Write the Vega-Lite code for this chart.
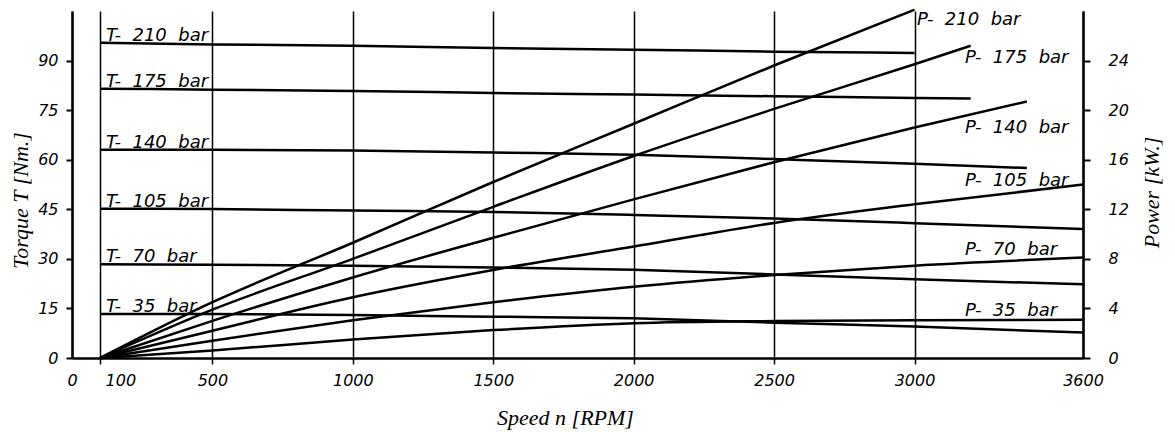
{
  "$schema": "https://vega.github.io/schema/vega-lite/v6.json",
  "width": 1011,
  "height": 347,
  "autosize": {"type": "none"},
  "padding": {"left": 72, "top": 11, "right": 92, "bottom": 74},
  "background": "white",
  "config": {
    "view": {"stroke": null},
    "axis": {
      "domainColor": "black", "domainWidth": 2.5, "tickColor": "black", "tickWidth": 2,
      "labelColor": "black", "labelFont": "DejaVu Sans", "labelFontStyle": "oblique", "labelFontSize": 16,
      "titleColor": "black", "titleFont": "Liberation Serif", "titleFontStyle": "italic", "titleFontWeight": "normal", "titleFontSize": 22,
      "labelFlush": false, "labelOverlap": false
    }
  },
  "datasets": {
    "torque": [
      {"p": 210, "speed": 100, "torque": 95.4}, {"p": 210, "speed": 500, "torque": 94.9}, {"p": 210, "speed": 1000, "torque": 94.5}, {"p": 210, "speed": 1500, "torque": 93.8}, {"p": 210, "speed": 2000, "torque": 93.3}, {"p": 210, "speed": 2500, "torque": 92.7}, {"p": 210, "speed": 3000, "torque": 92.3},
      {"p": 175, "speed": 100, "torque": 81.5}, {"p": 175, "speed": 500, "torque": 81.2}, {"p": 175, "speed": 1000, "torque": 80.8}, {"p": 175, "speed": 1500, "torque": 80.2}, {"p": 175, "speed": 2000, "torque": 79.7}, {"p": 175, "speed": 2500, "torque": 79.2}, {"p": 175, "speed": 3000, "torque": 78.7}, {"p": 175, "speed": 3200, "torque": 78.5},
      {"p": 140, "speed": 100, "torque": 63.0}, {"p": 140, "speed": 500, "torque": 63.0}, {"p": 140, "speed": 1000, "torque": 62.8}, {"p": 140, "speed": 1500, "torque": 62.2}, {"p": 140, "speed": 2000, "torque": 61.5}, {"p": 140, "speed": 2500, "torque": 60.2}, {"p": 140, "speed": 3000, "torque": 58.8}, {"p": 140, "speed": 3400, "torque": 57.5},
      {"p": 105, "speed": 100, "torque": 45.2}, {"p": 105, "speed": 500, "torque": 45.1}, {"p": 105, "speed": 1000, "torque": 44.6}, {"p": 105, "speed": 1500, "torque": 44.2}, {"p": 105, "speed": 2000, "torque": 43.3}, {"p": 105, "speed": 2500, "torque": 42.2}, {"p": 105, "speed": 3000, "torque": 40.8}, {"p": 105, "speed": 3600, "torque": 39.0},
      {"p": 70, "speed": 100, "torque": 28.4}, {"p": 70, "speed": 500, "torque": 28.2}, {"p": 70, "speed": 1000, "torque": 27.9}, {"p": 70, "speed": 1500, "torque": 27.4}, {"p": 70, "speed": 2000, "torque": 26.7}, {"p": 70, "speed": 2500, "torque": 25.3}, {"p": 70, "speed": 3000, "torque": 23.8}, {"p": 70, "speed": 3600, "torque": 22.3},
      {"p": 35, "speed": 100, "torque": 13.3}, {"p": 35, "speed": 500, "torque": 13.3}, {"p": 35, "speed": 1000, "torque": 13.0}, {"p": 35, "speed": 1500, "torque": 12.5}, {"p": 35, "speed": 2000, "torque": 12.0}, {"p": 35, "speed": 2500, "torque": 10.7}, {"p": 35, "speed": 3000, "torque": 9.5}, {"p": 35, "speed": 3600, "torque": 7.7}
    ],
    "power": [
      {"p": 210, "speed": 100, "power": 0}, {"p": 210, "speed": 500, "power": 4.5}, {"p": 210, "speed": 1000, "power": 9.3}, {"p": 210, "speed": 1500, "power": 14.2}, {"p": 210, "speed": 2000, "power": 18.9}, {"p": 210, "speed": 2500, "power": 23.6}, {"p": 210, "speed": 3000, "power": 28.1},
      {"p": 175, "speed": 100, "power": 0}, {"p": 175, "speed": 500, "power": 3.9}, {"p": 175, "speed": 1000, "power": 8.0}, {"p": 175, "speed": 1500, "power": 12.2}, {"p": 175, "speed": 2000, "power": 16.3}, {"p": 175, "speed": 2500, "power": 20.1}, {"p": 175, "speed": 3000, "power": 23.7}, {"p": 175, "speed": 3200, "power": 25.2},
      {"p": 140, "speed": 100, "power": 0}, {"p": 140, "speed": 500, "power": 3.0}, {"p": 140, "speed": 1000, "power": 6.5}, {"p": 140, "speed": 1500, "power": 9.7}, {"p": 140, "speed": 2000, "power": 12.8}, {"p": 140, "speed": 2500, "power": 15.8}, {"p": 140, "speed": 3000, "power": 18.6}, {"p": 140, "speed": 3400, "power": 20.7},
      {"p": 105, "speed": 100, "power": 0}, {"p": 105, "speed": 500, "power": 2.2}, {"p": 105, "speed": 1000, "power": 4.9}, {"p": 105, "speed": 1500, "power": 7.1}, {"p": 105, "speed": 2000, "power": 9.0}, {"p": 105, "speed": 2500, "power": 10.9}, {"p": 105, "speed": 3000, "power": 12.4}, {"p": 105, "speed": 3600, "power": 14.0},
      {"p": 70, "speed": 100, "power": 0}, {"p": 70, "speed": 500, "power": 1.4}, {"p": 70, "speed": 1000, "power": 3.05}, {"p": 70, "speed": 1500, "power": 4.5}, {"p": 70, "speed": 2000, "power": 5.75}, {"p": 70, "speed": 2500, "power": 6.7}, {"p": 70, "speed": 3000, "power": 7.45}, {"p": 70, "speed": 3600, "power": 8.1},
      {"p": 35, "speed": 100, "power": 0}, {"p": 35, "speed": 500, "power": 0.6}, {"p": 35, "speed": 1000, "power": 1.5}, {"p": 35, "speed": 1500, "power": 2.25}, {"p": 35, "speed": 2000, "power": 2.8}, {"p": 35, "speed": 2500, "power": 2.98}, {"p": 35, "speed": 3000, "power": 3.05}, {"p": 35, "speed": 3600, "power": 3.08}
    ],
    "tlabels": [
      {"speed": 100, "torque": 95.4, "label": "T-\u00a0 210\u00a0 bar"},
      {"speed": 100, "torque": 81.5, "label": "T-\u00a0 175\u00a0 bar"},
      {"speed": 100, "torque": 63.0, "label": "T-\u00a0 140\u00a0 bar"},
      {"speed": 100, "torque": 45.2, "label": "T-\u00a0 105\u00a0 bar"},
      {"speed": 100, "torque": 28.4, "label": "T-\u00a0 70\u00a0 bar"},
      {"speed": 100, "torque": 13.3, "label": "T-\u00a0 35\u00a0 bar"}
    ],
    "plabels": [
      {"speed": 3009, "power": 26.9, "label": "P-\u00a0 210\u00a0 bar"},
      {"speed": 3180, "power": 23.84, "label": "P-\u00a0 175\u00a0 bar"},
      {"speed": 3180, "power": 18.18, "label": "P-\u00a0 140\u00a0 bar"},
      {"speed": 3180, "power": 13.9, "label": "P-\u00a0 105\u00a0 bar"},
      {"speed": 3180, "power": 8.32, "label": "P-\u00a0 70\u00a0 bar"},
      {"speed": 3180, "power": 3.39, "label": "P-\u00a0 35\u00a0 bar"}
    ]
  },
  "encoding": {
    "x": {
      "field": "speed", "type": "quantitative",
      "scale": {"domain": [0, 3600], "nice": false, "zero": false},
      "axis": {
        "values": [0, 100, 500, 1000, 1500, 2000, 2500, 3000, 3600],
        "format": "d",
        "grid": true, "gridColor": "black", "gridWidth": 1.5, "gridOpacity": 1,
        "tickSize": 6,
        "tickOpacity": {"condition": {"test": "datum.value == 0 || datum.value == 3600", "value": 0}, "value": 1},
        "tickWidth": 1.5,
        "labelPadding": 8, "labelBaseline": "top",
        "labelAlign": {"condition": {"test": "datum.value == 100", "value": "left"}, "value": "center"},
        "labelOffset": {"condition": {"test": "datum.value == 100", "value": 5}, "value": 0},
        "title": "Speed n [RPM]", "titleX": 493, "titleY": 66, "titleAlign": "center", "titleBaseline": "alphabetic"
      }
    }
  },
  "layer": [
    {
      "encoding": {
        "y": {
          "field": "torque", "type": "quantitative",
          "scale": {"domain": [0, 105], "nice": false},
          "axis": {
            "orient": "left", "values": [0, 15, 30, 45, 60, 75, 90], "grid": false,
            "tickSize": 6, "labelPadding": 8, "labelBaseline": "middle",
            "title": "Torque T [Nm.]", "titleAngle": 270, "titleX": -45, "titleY": 189, "titleAlign": "center", "titleBaseline": "alphabetic"
          }
        }
      },
      "layer": [
        {
          "data": {"name": "torque"},
          "mark": {"type": "line", "color": "black", "strokeWidth": 2.5, "interpolate": "monotone"},
          "encoding": {"detail": {"field": "p", "type": "nominal"}}
        },
        {
          "data": {"name": "tlabels"},
          "mark": {"type": "text", "align": "left", "baseline": "alphabetic", "dx": 6, "dy": -2, "font": "DejaVu Sans", "fontStyle": "oblique", "fontSize": 18, "color": "black"},
          "encoding": {"text": {"field": "label"}}
        }
      ]
    },
    {
      "encoding": {
        "y": {
          "field": "power", "type": "quantitative",
          "scale": {"domain": [0, 28], "nice": false},
          "axis": {
            "orient": "right", "values": [0, 4, 8, 12, 16, 20, 24], "grid": false,
            "tickSize": 7, "labelPadding": 18, "labelBaseline": "middle",
            "title": "Power [kW.]", "titleAngle": 270, "titleX": 75, "titleY": 181, "titleAlign": "center", "titleBaseline": "alphabetic"
          }
        }
      },
      "layer": [
        {
          "data": {"name": "power"},
          "mark": {"type": "line", "color": "black", "strokeWidth": 2.5, "interpolate": "monotone"},
          "encoding": {"detail": {"field": "p", "type": "nominal"}}
        },
        {
          "data": {"name": "plabels"},
          "mark": {"type": "text", "align": "left", "baseline": "alphabetic", "font": "DejaVu Sans", "fontStyle": "oblique", "fontSize": 18, "color": "black"},
          "encoding": {"text": {"field": "label"}}
        }
      ]
    }
  ],
  "resolve": {"scale": {"y": "independent"}}
}
